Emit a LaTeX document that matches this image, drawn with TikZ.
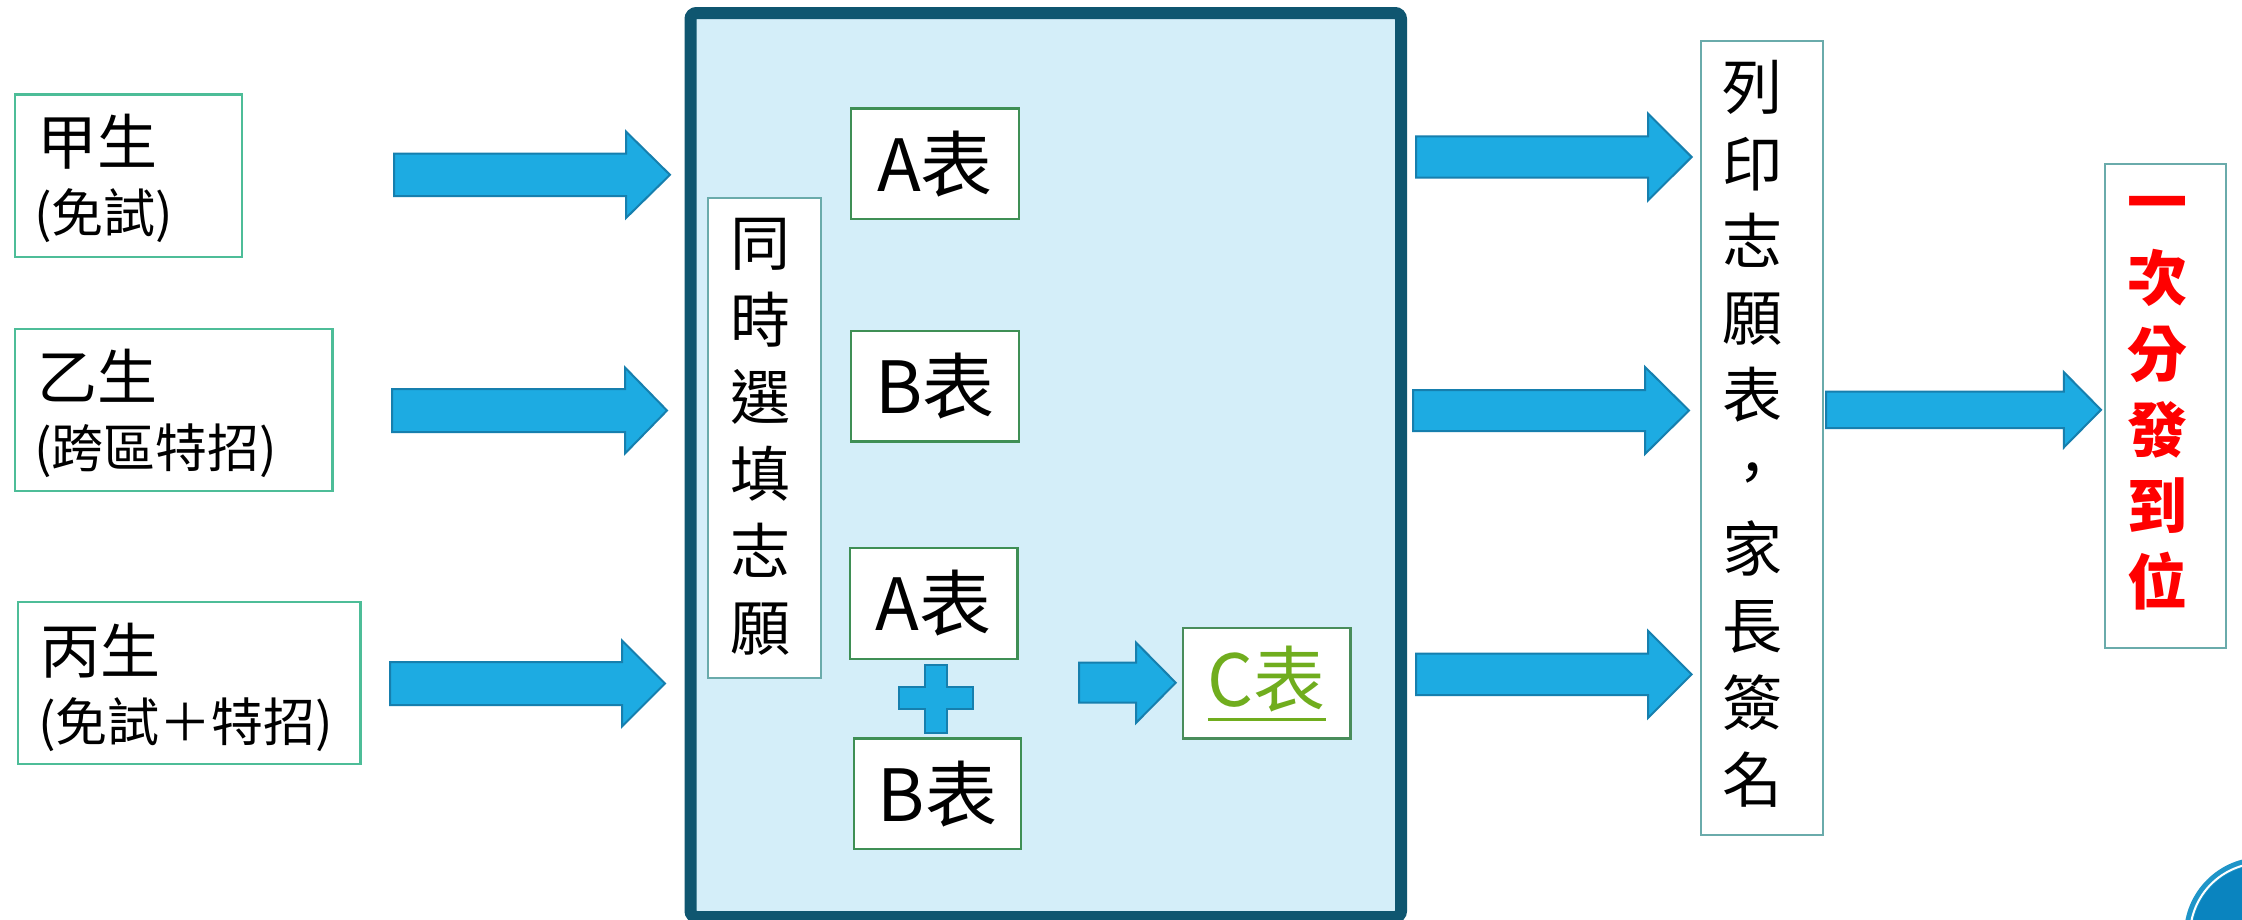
\documentclass[tikz,border=0pt]{standalone}
\usepackage{fontspec}
\newfontfamily\cjk{Noto Sans CJK TC}
\definecolor{arrowfill}{HTML}{1DABE2}
\definecolor{arrowline}{HTML}{167FAE}
\definecolor{leftline}{HTML}{4DBD98}
\definecolor{tabline}{HTML}{3F8F55}
\definecolor{vline}{HTML}{6AABAB}
\definecolor{bigline}{HTML}{0F5670}
\definecolor{bigfill}{HTML}{D4EEF9}
\definecolor{ctext}{HTML}{70AD1E}
\definecolor{circa}{HTML}{1F95C8}
\definecolor{circb}{HTML}{0A84BF}
\newcommand\blkarrow[6]{% x1, xtip, yc, shaft half, head half, xbase
  \draw[blk] ({#1},{#3-#4}) -- ({#6},{#3-#4}) -- ({#6},{#3-#5}) -- ({#2},{#3})
    -- ({#6},{#3+#5}) -- ({#6},{#3+#4}) -- ({#1},{#3+#4}) -- cycle;}
\tikzset{
  lbox/.style={draw=leftline, line width=2.5pt, fill=white, inner sep=0pt},
  tbox/.style={draw=tabline, line width=2.5pt, fill=white, inner sep=0pt,
    font=\cjk\fontsize{72}{80}\selectfont},
  vbox/.style={draw=vline, line width=2pt, fill=white, inner sep=0pt},
  vtext/.style={align=center, inner sep=0pt, font=\cjk\fontsize{60}{77}\selectfont},
  nametext/.style={anchor=base west, inner sep=0pt, font=\cjk\fontsize{60}{60}\selectfont},
  subtext/.style={anchor=base west, inner sep=0pt, font=\cjk\fontsize{52}{52}\selectfont},
  blk/.style={fill=arrowfill, draw=arrowline, line width=2pt, line join=miter},
  panel/.style={draw=bigline, fill=bigfill, line width=12pt, rounded corners=6pt, inner sep=0pt}
}
\begin{document}
\begin{tikzpicture}[x=1pt,y=-1pt]
\useasboundingbox (0,0) rectangle (2242,919);
\fill[white] (0,0) rectangle (2242,919);

% big panel
\node[panel, minimum width=710.5pt, minimum height=904pt] (panel) at (1045.75,465) {};

% left student boxes
\node[lbox, minimum width=227.3pt, minimum height=162.5pt] (jia) at (128.4,175.5) {};
\node[nametext] (jiat) at (37,164) {甲生};
\node[subtext] (jias) at (34,232) {(免試)};

\node[lbox, minimum width=317.9pt, minimum height=161.7pt] (yi) at (173.7,409.9) {};
\node[nametext] (yit) at (37,399) {乙生};
\node[subtext] (yis) at (34,467) {(跨區特招)};

\node[lbox, minimum width=342.8pt, minimum height=162pt] (bing) at (189.3,683) {};
\node[nametext] (bingt) at (40,673) {丙生};
\node[subtext] (bings) at (38,741) {(免試＋特招)};

% arrows into panel
\blkarrow{394}{670}{174.8}{21.2}{43.2}{626}
\blkarrow{392}{667}{410.5}{21.5}{43}{625}
\blkarrow{390}{665}{683.5}{21.5}{43}{622}

% inside panel
\node[vbox, minimum width=112.3pt, minimum height=480.5pt] (same) at (764.5,437.8) {};
\node[vtext] (samet) at (760,436.8) {同\\時\\選\\填\\志\\願};

\node[tbox, minimum width=168pt, minimum height=110.6pt] (ta1) at (935,163.7) {A表};
\node[tbox, minimum width=168pt, minimum height=110.4pt] (tb1) at (935,386.2) {B表};
\node[tbox, minimum width=167.4pt, minimum height=111pt] (ta2) at (933.7,603.5) {A表};
\node[tbox, minimum width=167.3pt, minimum height=110.2pt] (tb2) at (937.4,793.7) {B表};

% plus sign
\draw[blk] (924.5,665) -- (947,665) -- (947,687) -- (972.6,687) -- (972.6,709)
  -- (947,709) -- (947,732.7) -- (924.5,732.7) -- (924.5,709) -- (898.5,709)
  -- (898.5,687) -- (924.5,687) -- cycle;

% small arrow to C table
\blkarrow{1079}{1175.7}{682.7}{20}{40.2}{1136}
\node[tbox, draw=tabline!85!gray, minimum width=167.6pt, minimum height=110.6pt, text=ctext] (tc) at (1266.8,683.3)
  {\setbox0\hbox{C表}\rlap{\rule[-15pt]{\wd0}{3.5pt}}\box0};

% arrows out of panel
\blkarrow{1416}{1691.6}{157}{20.6}{43.5}{1648}
\blkarrow{1413}{1689}{410.5}{20.5}{43.5}{1645}
\blkarrow{1416}{1691.6}{674.3}{20.7}{43.6}{1648}

\node[vbox, minimum width=121.9pt, minimum height=794.2pt] (print) at (1761.8,438.3) {};
\node[vtext] (printt) at (1752.5,434.2) {列\\印\\志\\願\\表\\，\\家\\長\\簽\\名};

\blkarrow{1826}{2101}{409.8}{18.2}{37.7}{2063.8}

\node[vbox, minimum width=121.4pt, minimum height=484.4pt] (once) at (2165.3,406.2) {};
\node[vtext, text=red, font=\cjk\bfseries\fontsize{60}{76}\selectfont] (oncet) at (2157,402.8) {一\\次\\分\\發\\到\\位};

% corner badge
\fill[circa] (2262,935) circle (78);
\draw[white, line width=2pt] (2262,935) circle (72);
\fill[circb] (2262,935) circle (70);
\end{tikzpicture}
\end{document}
